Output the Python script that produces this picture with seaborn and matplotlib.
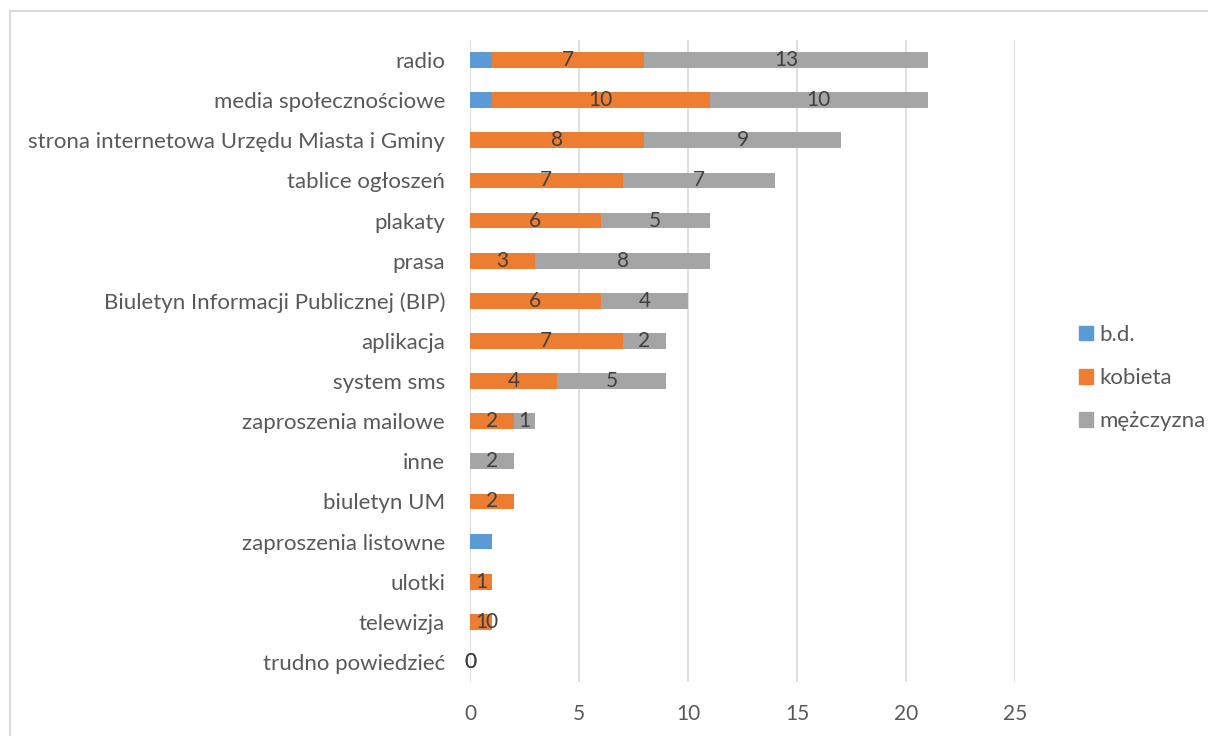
import pandas as pd
import seaborn as sns
import matplotlib.pyplot as plt
from matplotlib.patches import Rectangle, Patch

# data (top to bottom)
categories = ['radio', 'media społecznościowe', 'strona internetowa Urzędu Miasta i Gminy',
              'tablice ogłoszeń', 'plakaty', 'prasa', 'Biuletyn Informacji Publicznej (BIP)',
              'aplikacja', 'system sms', 'zaproszenia mailowe', 'inne', 'biuletyn UM',
              'zaproszenia listowne', 'ulotki', 'telewizja', 'trudno powiedzieć']
bd = [1, 1, 0, 0, 0, 0, 0, 0, 0, 0, 0, 0, 1, 0, 0, 0]
kobieta = [7, 10, 8, 7, 6, 3, 6, 7, 4, 2, None, 2, None, 1, 1, 0]
mezczyzna = [13, 10, 9, 7, 5, 8, 4, 2, 5, 1, 2, None, None, None, 0, 0]

df = pd.DataFrame({'kat': categories, 'bd': bd, 'k': kobieta, 'm': mezczyzna})
df['k0'] = df['k'].fillna(0)
df['m0'] = df['m'].fillna(0)
df['c1'] = df['bd']
df['c2'] = df['c1'] + df['k0']
df['c3'] = df['c2'] + df['m0']

sns.set_theme(style='white')
plt.rcParams['font.family'] = ['Lato', 'DejaVu Sans']

c_bd, c_k, c_m = '#5B9BD5', '#ED7D31', '#A5A5A5'
txt = '#404040'
lab = '#595959'

fig = plt.figure(figsize=(12.08, 7.36), dpi=100)
ax = fig.add_axes([470 / 1208, 1 - 682 / 736, 545 / 1208, 642 / 736])

# stacked bars: draw cumulative totals back to front
for col, color in [('c3', c_m), ('c2', c_k), ('c1', c_bd)]:
    sns.barplot(data=df, x=col, y='kat', order=categories, orient='h',
                color=color, width=0.39, saturation=1, ax=ax, linewidth=0)

for i, row in df.iterrows():
    if pd.notna(row['k']):
        ax.text(row['c1'] + row['k0'] / 2, i, f"{int(row['k'])}", ha='center', va='center',
                color=txt, fontsize=15)
    if pd.notna(row['m']):
        ax.text(row['c2'] + row['m0'] / 2, i, f"{int(row['m'])}", ha='center', va='center',
                color=txt, fontsize=15)

ax.set_xlim(0, 25)
ax.set_xticks([0, 5, 10, 15, 20, 25])
ax.set_ylim(15.5, -0.5)
ax.set_xlabel('')
ax.set_ylabel('')
ax.grid(axis='x', color='#D9D9D9', linewidth=1.2)
ax.set_axisbelow(True)
for s in ax.spines.values():
    s.set_visible(False)
ax.tick_params(axis='x', length=0, pad=16, labelsize=15, labelcolor=lab)
ax.tick_params(axis='y', length=0, pad=18, labelsize=16, labelcolor=lab)

handles = [Patch(color=c_bd, label='b.d.'), Patch(color=c_k, label='kobieta'),
           Patch(color=c_m, label='mężczyzna')]
fig.legend(handles=handles, loc='center left', bbox_to_anchor=(1068 / 1208, 1 - 378 / 736),
           frameon=False, fontsize=16, handlelength=0.64, handleheight=0.64, borderpad=0,
           handletextpad=0.27, labelspacing=1.05, labelcolor=lab)

# outer chart frame
fig.patches.append(Rectangle((10 / 1208, -0.1), 1.2, 1.1 - 11 / 736, transform=fig.transFigure,
                             fill=False, edgecolor='#D9D9D9', linewidth=1.5))

fig.savefig('out.png', dpi=100)
